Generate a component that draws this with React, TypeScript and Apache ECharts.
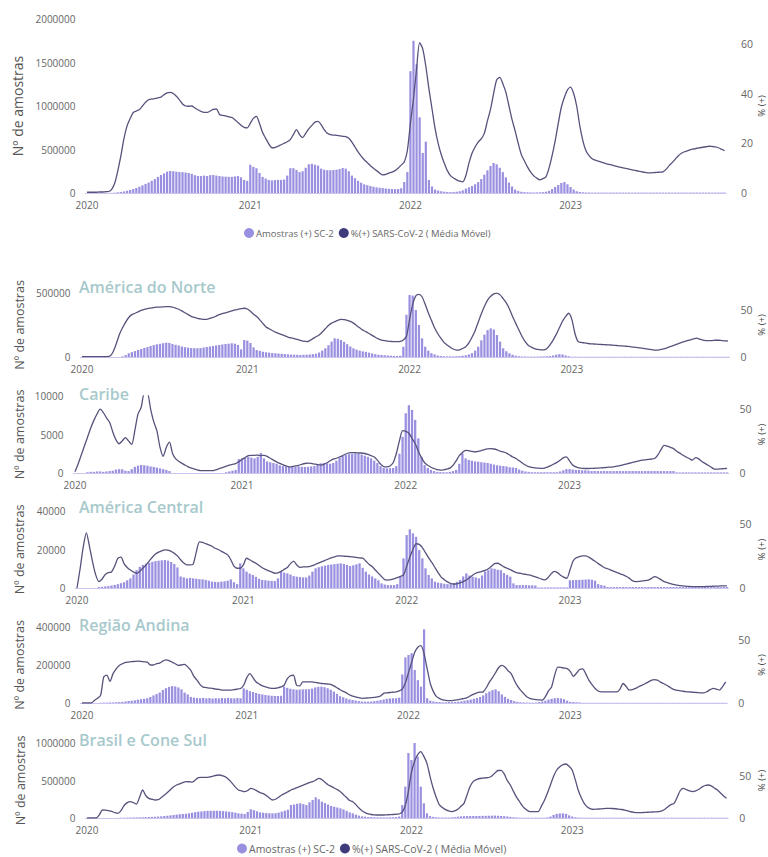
import { useEffect, useRef } from "react";
import * as echarts from "echarts";

// ---------- categories (ISO weeks) ----------
const years = [2020, 2021, 2022, 2023];
const weeksInYear = [53, 52, 52, 51];
const weeks: string[] = [];
years.forEach((y, k) => {
  for (let w = 1; w <= weeksInYear[k]; w++) weeks.push(`${y}-W${String(w).padStart(2, "0")}`);
});

const BAR_NAME = "Amostras (+) SC-2";
const LINE_NAME = "%(+) SARS-CoV-2 ( Média Móvel)";
const regionTitles = ["", "América do Norte", "Caribe", "América Central", "Região Andina", "Brasil e Cone Sul"];

const leftMax = [2000000, 500000, 10000, 40000, 400000, 1000000];
const leftInterval = [500000, 500000, 5000, 20000, 200000, 500000];
const rightMax = [70, 68, 60, 60, 60, 90];
const rightInterval = [20, 50, 50, 50, 50, 50];

// ---------- Total (Américas) ----------
const totalPct = [
  0.3,0.3,0.3,0.3,0.4,0.4,0.5,0.6,1.5,4,
  9,15,22,27,30,32.4,33,33.6,35,36.5,
  37.5,37.8,38,38.3,38.6,39.5,40.3,40.5,40,38.9,
  37.5,35.8,35,34.9,35,34.2,33.5,32.8,32.4,32.4,
  33,33.6,33.8,31.6,31.2,31,30.6,30.4,29.5,28.4,
  27.3,26.4,26.2,28,30,30.8,28,24.3,22,19.8,
  18.2,18.3,18.8,19.4,20,20.6,21.5,23.5,25.5,23.5,
  22.3,24,25.8,27.2,28.5,28.8,27.5,25.5,24,23.5,
  23.3,23.2,23,22.8,22.7,22,20.5,18.5,16.5,14.8,
  13.4,12.2,11,10,9,8,7.3,7.5,8,8.4,
  9,10,11.2,12.5,17,28,38,50,60.5,58,
  51,42,34,26,20,15.5,12,9,7,6,
  5.3,4.8,4.5,7,12,16,18.5,20.5,21.8,24,
  29,33.6,40,45.5,46.5,44,40.5,35,29.5,25,
  20,15.5,13,10.5,8.5,7,6,5.3,5.8,6.5,
  10,15,21,28,34.5,38.5,41.5,42.6,40,34.9,
  27,21,17,15,13.8,13.2,12.8,12.4,12,11.6,
  11.4,11,10.7,10.4,10.1,9.9,9.6,9.3,9.1,8.8,
  8.6,8.3,8.1,8.1,8.2,8.3,8.4,8.5,9.5,11,
  12.2,13.6,15,16,16.6,17,17.4,17.7,18,18.2,
  18.4,18.6,18.8,18.7,18.6,18.2,17.6,17,
];
const totalSamplesK = [
  0,0,0,0,0,0,0,1,2,4,
  8,12,18,25,35,45,58,72,88,105,
  120,140,160,185,207,225,245,253,250,245,
  241,240,235,230,220,205,195,195,200,195,
  205,207,200,195,190,188,186,186,190,195,
  180,150,140,325,300,285,230,185,165,150,
  145,148,150,150,155,200,285,285,265,240,
  250,290,330,335,325,315,280,268,262,262,
  264,268,275,287,280,250,200,170,140,118,
  100,90,80,72,65,60,57,52,48,46,
  45,46,55,126,240,1400,1750,1480,870,460,
  590,150,75,40,28,20,15,12,10,12,
  15,20,30,50,65,80,100,125,160,210,
  260,310,345,330,290,240,180,120,75,40,
  22,14,10,8,7,6,7,8,10,15,
  25,45,70,92,115,126,100,69,40,20,
  12,8,6,6,5,5,5,5,5,5,
  5,5,5,5,5,5,5,5,5,5,
  5,5,5,5,5,5,5,5,5,5,
  5,5,5,5,5,5,5,5,5,5,
  5,5,5,5,5,5,5,5,
];

// ---------- América do Norte ----------
const northPct = [
  0.5,0.5,0.5,0.5,0.5,0.5,0.5,0.5,0.5,1,
  5.6,14,24,31,37,42,45,46.5,48,49.5,
  50.5,51.5,52,52.5,53,53,53.3,53.5,53.5,53,
  52,50.7,49,47,45,43.2,42,41,40.5,40,
  40,41,42,43.5,45,46,47,48,49,50,
  50.7,51.3,51.8,51,48.5,45.5,43,39.5,35.5,32,
  30,28.2,26.5,25,23.8,22.5,21.2,20.3,19.6,18.6,
  17.7,16.8,16.3,17.5,19.5,21.5,23.4,26.5,30,33.5,
  36,37.5,39,40,39.7,39,37.8,36,33.5,31,
  28.5,27,25,23,21,19.3,18,17.3,16.8,16.5,
  16.3,16.3,16.5,18,22,40,56,65,66.5,64,
  56,47,39,31,25,20,15.5,12.8,10.5,8.5,
  7.4,7.6,9,11,15,21,28,37,46,54,
  60.5,64.5,67,67.8,66,62,57.5,51,43,36,
  29,22,16.5,12.5,10.5,9,8,7.5,7.5,9,
  13,18,24,31,38,43,46.5,40,25,16.3,
  15.5,15,14.5,14,13.8,13.6,13.4,13.2,13,12.8,
  12.6,12.3,12,11.8,11.5,11.2,10.8,10.4,10,9.6,
  9.1,8.6,8,7.6,7.4,7.6,8.3,9.2,10.4,11.6,
  12.8,14,15.3,16.3,17.3,18.3,19.2,20,19,18,
  17.5,17.3,17.5,17.8,17.8,17.5,17.2,17,
];
const northSamplesK = [
  0,0,0,0,0,0,0,0,0,0,
  0,0,0,5,15,29,38,46,55,63,
  71,78,86,93,99,103,108,112,110,102,
  95,90,82,77,73,70,69,68,70,74,
  78,82,86,90,94,98,102,104,107,104,
  94,60,133,128,110,75,55,48,41,37,
  34,31,29,27,25,23,21,19,18,17,
  16,17,18,20,22,25,35,50,68,92,
  120,146,142,133,118,100,82,68,58,50,
  44,40,34,28,22,18,16,14,12,10,
  9,8,10,80,330,484,480,367,250,146,
  80,50,30,20,12,8,6,5,5,5,
  6,7,10,14,20,30,50,80,130,175,
  210,224,215,172,120,68,45,29,18,10,
  6,4,4,3,3,3,3,4,5,6,
  8,12,18,22,20,12,6,2,2,2,
  2,2,2,2,2,2,2,2,2,2,
  2,2,2,2,2,2,2,2,2,2,
  2,2,2,2,2,2,2,2,2,2,
  2,2,2,2,2,2,2,2,2,2,
  2,2,2,2,2,2,2,2,
];

// ---------- Caribe ----------
const caribPct = [
  1,7,14,21,28,35,41,46,49.7,47,
  43,39.5,32,26,22.8,25,27.5,25,22.3,33,
  45.9,51,62,62,50,40,33,20,13,20,
  24,15,11,9,7.5,6,4.8,3.8,3,2.2,
  1.8,1.8,1.8,1.8,1.9,2.6,3.6,4.4,5.3,6.2,
  6.8,7.3,8.8,10.5,12,13.5,13.8,13.8,14,13.6,
  13.8,13,11.5,10,8.7,7.5,6.5,5.5,4.8,5,
  5.5,6,6.8,7.4,7.7,7.5,7,6.5,6.2,6.8,
  8,9.5,10.8,11.5,12.5,13.6,14.8,15.6,15.8,15.8,
  15.6,15.6,15.2,14.5,13.5,12.5,10,7,5,4.8,
  5.5,8,15,25,33,32.5,31,27,23,17,
  12,8,6,4.5,3.5,2.6,2.3,2.5,3,3.8,
  6,9.5,13.5,16,17.7,17.5,16.8,16.4,16.8,17.5,
  18.3,18.8,19,18.7,18,17,16.4,15.5,14,12.5,
  11.3,9.5,7.8,6.2,5,4.4,4,3.8,3.6,3.8,
  4.5,5.7,7,8.3,10,11.8,12.5,9.5,6.2,4.8,
  4,3.6,3.5,3.5,3.6,3.7,3.8,4,4.2,4.4,
  4.6,4.8,5.3,5.8,6.4,7,7.6,8.2,8.8,9.4,
  10,10.3,10.6,10.9,11.3,14,18,21.5,21,20,
  19,17,15.5,13.8,12.5,11.3,10,12,11,9,
  7.5,6,4.5,3,3,3.2,3.4,3.6,
];
const caribSamples = [
  0,0,0,0,100,150,150,200,200,150,
  200,250,300,450,500,480,300,250,500,800,
  950,1040,1000,950,850,800,700,600,500,400,
  250,0,0,0,0,0,0,0,0,0,
  0,0,0,0,0,0,0,0,100,200,
  300,400,1800,1900,2000,2100,2000,1900,2100,2600,
  1900,1500,1400,1300,1200,1000,900,850,820,800,
  820,850,800,780,800,850,900,1100,1260,1300,
  1250,1200,1300,1600,2000,2200,2350,2450,2500,2560,
  2500,2400,2250,2100,1900,1600,1300,900,650,600,
  620,650,900,2500,4700,7760,8800,8200,6900,4500,
  2100,1040,650,400,250,150,120,100,100,150,
  250,400,1200,2560,1900,1700,1600,1500,1470,1400,
  1350,1300,1200,1100,1000,950,900,850,750,700,
  650,450,300,200,150,100,100,100,100,100,
  100,100,100,100,200,350,500,500,450,400,
  400,350,350,300,250,250,250,250,250,250,
  250,250,250,250,250,250,250,250,250,250,
  250,250,250,250,250,250,250,250,250,250,
  250,80,80,80,80,80,80,80,80,80,
  80,80,80,80,80,80,80,80,
];

// ---------- América Central ----------
const centralPct = [
  0,15,32,43,32,20,10,5,7,10.5,
  12,12.5,17,23,24,19,16,14,12.5,11.5,
  13,15.5,18,21,24,26.5,28,29,29.7,29.5,
  28.5,27,25,22,19.5,18,18,18.5,28,36,
  35.5,34.5,33.6,32.5,31,30,28.5,27.3,25.8,22,
  17,15.4,15.4,18,23.2,22,20.5,19.3,17.5,15.8,
  14.5,13.5,12.5,11.5,11.8,13,14.5,16,19,21,
  18,16.1,16.4,16.5,16.7,17.4,18.5,19.5,20.5,21.5,
  22.5,23.5,24.3,25,25,24.8,24.6,24.5,24.2,23.8,
  23.4,23.2,21,18.5,16.7,14,11.5,9,6.5,6.2,
  6.5,7.2,8,9,10.2,17,24,30,34.5,34,
  31.5,27.5,23.5,20,16,12,8.5,6.5,4.8,3.5,
  3.1,3.3,4,5,6.2,8,10,11.5,12.3,13,
  13.8,15,17,19,19.3,18,16.5,15.4,14.3,13,
  12,11.5,11,10.6,10.2,9.5,8.7,7.8,7,6.3,
  8,11,13,12,10,8.5,7.6,14,21,23.5,
  24.5,25,25,24,22.5,20.8,19,17.4,15.8,15,
  14,13,12,11,10.2,9,7.5,5.5,5,5.2,
  5.5,5.8,6.2,7.5,8.8,8,6.5,5,4.2,3.5,
  2.8,2.2,1.8,1.6,1.4,1.2,1.1,1,1,1,
  1.1,1.2,1.3,1.4,1.5,1.6,1.6,1.6,
];
const centralSamplesK = [
  0,0,0,0,0,0,0,0.5,0.6,0.8,
  1,1.3,1.6,2,2.5,3,4,5,7,9.3,
  11,12,12.6,13.1,13.6,14,14.2,14.4,14.5,14.2,
  13.5,12.5,10.7,6,5.5,5,5.2,5,4.8,4.6,
  4.5,4.2,3.8,3.3,3.2,3.1,3.3,3.5,3.8,4.5,
  3,2,12.8,10.2,8.5,7.5,6.8,5.8,4.8,4.2,
  4,3.8,3.7,3.6,5,8.5,8,7.6,7,6.2,
  5.9,5.7,5.5,5.5,6.5,8.5,10.2,10.8,11.3,11.6,
  12,12.2,12.4,12.6,12.8,12.5,12,11.4,11.8,12.3,
  12.8,10.5,8.5,7,6,5,4,2.4,1.8,1.5,
  1.5,1.5,2,6,15.4,27.5,30.5,28.4,26.6,19.7,
  15.4,10.2,6.8,5,3.3,2.8,2.5,2.2,2,2,
  2.5,3.2,4.2,6,7.6,6.5,5.9,5.5,5,6.5,
  8.5,9.3,10.2,10,9.5,9.3,7.8,6.8,5.9,2.4,
  1.5,1.5,1.5,1.5,1.4,1.4,1.3,0.3,0.3,0.3,
  0.3,0.3,0.3,0.3,0.3,0.3,0.3,4,4.1,4.2,
  4.2,4.3,4.4,4.5,4.3,3.8,2,1.5,1.2,0.5,
  0.5,0.5,0.5,0.5,0.5,0.5,0.5,0.5,0.5,0.5,
  0.5,0.5,0.5,0.5,0.5,0.5,0.5,0.5,0.5,0.5,
  0.5,0.5,0.5,0.5,0.5,0.5,0.5,0.5,0.5,0.5,
  0.5,0.5,0.5,0.5,0.5,0.5,0.5,0.5,
];

// ---------- Região Andina ----------
const andeanPct = [
  0,0,0,0,2,3.7,6,20.5,22,17,
  23.2,27,29.7,31,32,32.3,32.6,32.8,33,32.8,
  32.5,32.3,30,30,31,31.5,33,34,33.5,32.3,
  31,29.7,30,30.5,28.5,25.8,21,18,14.5,12.5,
  12.2,11.8,11.5,11,10.7,10.2,10.2,10.2,10.2,10.5,
  11,11.5,14,20,23.2,20,16.6,15,13.5,12.7,
  12,11.6,11.5,12,12.7,14,19,21.5,21.9,14,
  13.5,16.6,16.6,16.6,16.6,16.2,15.8,15.4,15.2,15,
  14.8,13.5,12,10.5,9.2,8,6.5,5.5,4.8,4.2,
  3.7,3.8,4,4.2,4.4,4.8,5.5,7.6,8,8.3,
  8.5,8.8,9.5,11,16,24,32,40,44,45.3,
  38.8,27,15.4,9,5,3.5,2.5,2,1.8,1.9,
  2.2,2.6,3.2,3.6,4.5,5.8,7,8,8.5,8.8,
  12,16.5,20,24,28,29.7,28.5,25.5,23.2,18,
  13.5,10.2,7.5,5,3.7,3,2.6,2.4,2.3,5,
  9.5,12.7,22,28.4,28.2,27.6,27.1,25,21,23.5,
  26.5,27,23,18,14.5,11.5,9.5,8.8,8.8,8.8,
  8.8,8.8,8.8,11,15.4,13,10.2,10.5,11.5,12.8,
  14,15.2,16.5,17.8,18.5,18,16.5,15.4,14,12.5,
  11,10.2,9.8,9.4,9,8.8,8.6,8.4,8.2,8,
  8,9,10.5,11.5,11,10.2,13,16.6,
];
const andeanSamplesK = [
  0,0,0,0,0,0,1,2,2,3,
  3,4,5,6,8,10,12,14,17,20,
  22,25,32,40,47,55,68,78,85,89,
  87,82,72,55,45,32,28,26,25,27,
  24,26,23,25,24,26,25,27,25,24,
  26,25,77,70,62,58,52,48,45,42,
  40,38,37,37,38,86,80,75,72,70,
  71,72,72,73,76,82,85,86,83,78,
  70,60,48,36,30,24,19,16,13,10,
  8,7,7,8,10,12,15,18,22,24,
  25,25,28,150,240,253,262,174,120,86,
  388,25,12,8,6,5,4,4,5,5,
  6,7,9,12,15,18,22,26,32,40,
  51,60,68,72,62,45,32,22,16,10,
  6,4,3,2,2,2,3,5,8,12,
  18,22,25,26,24,20,12,6,5,4,
  3,1,1,1,1,1,1,1,1,1,
  1,1,1,1,1,1,1,1,1,1,
  1,1,1,1,1,1,1,1,1,1,
  1,1,1,1,1,1,1,1,1,1,
  1,1,1,1,1,1,1,1,
];

// ---------- Brasil e Cone Sul ----------
const southPct = [
  0,0,0,0,4,9.6,9.5,8.8,8,6.5,
  5.6,9,15,18.4,19.6,18.5,16.8,25,33.6,27,
  23.6,22.5,21.6,22,24.5,27.5,30.5,34,37.5,39.6,
  41,42.5,43.6,43.5,43,45.5,48.5,48.8,48.8,48.8,
  49.5,50.5,51.3,51.6,50.5,48.8,45.5,41.6,37,33.6,
  32.5,31.6,33,35.5,34.5,32.5,30.5,29.2,27,24,
  21.6,22.5,25,27.6,29.5,31.5,33.6,35,36.5,38,
  39.5,41,42.5,43.6,45.5,47.6,46,43,40,38,
  36,34,31.5,28,24.5,21,19.6,16,12,8.8,
  6.5,5,4.2,3.8,3.6,3.6,3.6,3.8,4,4.2,
  4.5,4.8,7,15,32,55,68,76,79.6,74,
  65.6,50,36,25,16,12.5,10,8.5,7.6,8.5,
  10.5,14,17.6,28,38,44,46,47.4,47.8,48.2,
  48.6,50.5,54,57,57.2,53,45,39.6,32,25,
  19.5,14,10.5,8,7.6,7.6,7.6,14,21,30,
  40,50,57.6,61.5,64,64.8,62,57.6,46,33,
  24,17,13,11,10.4,10.6,10.9,11.2,11.5,11.6,
  11.4,11.1,10.7,10.2,9.5,8.5,7.5,6.8,6.4,6.4,
  6.6,6.8,7,7.2,7.4,7.6,8.5,10.5,13.5,16,
  17.6,25,33,35.6,34,32.5,31.6,32.5,34.5,37,
  39,39.6,38.5,36,33.6,30,26.5,23.6,
];
const southSamplesK = [
  0,0,0,0,0,0,0,0,0,0,
  2,3,4,5,6,7,8,9,10,11,
  13,15,17,19,22,26,30,35,40,45,
  50,53,56,62,70,78,84,88,92,95,
  97,96,97,95,92,88,84,78,70,62,
  58,53,80,116,105,90,75,70,66,63,
  62,64,72,85,97,110,173,180,190,196,
  185,173,210,240,276,250,218,200,180,160,
  150,140,129,115,95,75,62,45,32,22,
  18,14,12,10,9,8,8,8,9,10,
  12,20,173,418,867,773,1000,817,418,196,
  62,25,15,10,8,7,6,6,8,12,
  18,22,24,25,26,27,27,28,28,29,
  30,31,32,30,27,24,20,15,10,7,
  5,4,4,4,4,4,4,4,4,8,
  20,40,55,60,62,55,35,20,10,6,
  4,4,4,4,4,4,4,4,4,4,
  4,4,4,4,4,4,4,4,4,4,
  4,4,4,4,4,4,4,4,4,4,
  4,4,4,4,4,4,4,4,4,4,
  4,4,4,4,4,4,4,4,
];

const pctSeries = [totalPct, northPct, caribPct, centralPct, andeanPct, southPct];
const sampleSeries = [
  totalSamplesK.map((v) => v * 1000),
  northSamplesK.map((v) => v * 1000),
  caribSamples,
  centralSamplesK.map((v) => v * 1000),
  andeanSamplesK.map((v) => v * 1000),
  southSamplesK.map((v) => v * 1000),
];

// ---------- layout (pixels) ----------
const panels = [
  { left: 85.5, width: 640.6, top: 19, height: 174, nameGap: 61, nameSize: 14, titleTop: 0, rMargin: 15 },
  { left: 80.4, width: 649, top: 293, height: 64, nameGap: 54, nameSize: 12.5, titleTop: 279, rMargin: 11 },
  { left: 73.4, width: 655.2, top: 396, height: 77, nameGap: 47, nameSize: 12.5, titleTop: 386, rMargin: 11 },
  { left: 75.4, width: 653.1, top: 511, height: 77, nameGap: 49, nameSize: 12.5, titleTop: 499, rMargin: 11 },
  { left: 80.4, width: 646.9, top: 627, height: 76, nameGap: 54, nameSize: 12.5, titleTop: 617, rMargin: 11 },
  { left: 85.5, width: 642.7, top: 743, height: 75, nameGap: 59, nameSize: 12.5, titleTop: 732, rMargin: 11 },
];

const BAR_COLOR = "#9990e0";
const LINE_COLOR = "#55537c";
const LINE_ICON = "#3e3a7c";
const FONT = "'Segoe UI', 'Open Sans', sans-serif";

export default function App() {
  const ref = useRef<HTMLDivElement>(null);
  useEffect(() => {
    if (!ref.current) return;
    const chart = echarts.init(ref.current, undefined, { renderer: "svg" });
    const grid: any[] = [];
    const xAxis: any[] = [];
    const yAxis: any[] = [];
    const series: any[] = [];
    const title: any[] = [];
    panels.forEach((p, k) => {
      const rightEdge = p.left + p.width;
      grid.push({ left: p.left, top: p.top, width: p.width, height: p.height, containLabel: false, outerBoundsMode: "none" });
      xAxis.push({
        type: "category",
        gridIndex: k,
        data: weeks,
        boundaryGap: true,
        axisLine: { show: true, lineStyle: { color: "#cbc6f0", width: 1 } },
        axisTick: { show: false },
        axisLabel: {
          interval: (_i: number, v: string) => v.endsWith("-W01"),
          formatter: (v: string) => v.slice(0, 4),
          color: "#666",
          fontSize: 10,
          margin: 7,
          fontFamily: FONT,
        },
        splitLine: { show: false },
      });
      yAxis.push({
        type: "value",
        gridIndex: k,
        min: 0,
        max: leftMax[k],
        interval: leftInterval[k],
        name: "Nº de amostras",
        nameLocation: "middle",
        nameRotate: 90,
        nameGap: p.nameGap,
        nameMoveOverlap: false,
        nameTextStyle: { color: "#555", fontSize: p.nameSize, fontFamily: FONT },
        axisLine: { show: false },
        axisTick: { show: false },
        splitLine: { show: false },
        axisLabel: { color: "#666", fontSize: 10, margin: 10, fontFamily: FONT, formatter: (v: number) => String(v) },
      });
      yAxis.push({
        type: "value",
        gridIndex: k,
        position: "right",
        min: 0,
        max: rightMax[k],
        interval: rightInterval[k],
        name: "% (+)",
        nameLocation: "middle",
        nameRotate: 90,
        nameGap: 756 - rightEdge,
        nameMoveOverlap: false,
        nameTextStyle: { color: "#444", fontSize: 9.5, fontFamily: FONT },
        axisLine: { show: false },
        axisTick: { show: false },
        splitLine: { show: false },
        axisLabel: { color: "#666", fontSize: 10.5, margin: p.rMargin, showMaxLabel: false, fontFamily: FONT },
      });
      series.push({
        type: "bar",
        name: BAR_NAME,
        xAxisIndex: k,
        yAxisIndex: 2 * k,
        data: sampleSeries[k],
        barCategoryGap: "28%",
        itemStyle: { color: BAR_COLOR },
        emphasis: { disabled: true },
      });
      series.push({
        type: "line",
        name: LINE_NAME,
        xAxisIndex: k,
        yAxisIndex: 2 * k + 1,
        data: pctSeries[k],
        showSymbol: false,
        symbol: "none",
        smooth: 0.25,
        clip: true,
        itemStyle: { color: LINE_ICON },
        lineStyle: { color: LINE_COLOR, width: 1.3 },
        emphasis: { disabled: true },
        z: 3,
      });
      if (regionTitles[k]) {
        title.push({
          text: regionTitles[k],
          left: 79,
          top: p.titleTop,
          padding: 0,
          textStyle: { color: "#a7c9cc", fontSize: 16, fontWeight: 600, fontFamily: "'Open Sans', sans-serif" },
        });
      }
    });
    const legendBase = {
      orient: "horizontal",
      icon: "circle",
      itemWidth: 10,
      itemHeight: 10,
      itemGap: 5,
      selectedMode: false,
      padding: 0,
      data: [BAR_NAME, LINE_NAME],
    };
    chart.setOption({
      animation: false,
      textStyle: { fontFamily: FONT },
      title,
      grid,
      xAxis,
      yAxis,
      series,
      legend: [
        { ...legendBase, left: 244, top: 228, textStyle: { color: "#666", fontSize: 9.5, fontFamily: FONT, padding: [0, 0, 0, -3] } },
        { ...legendBase, left: 237, top: 843, textStyle: { color: "#666", fontSize: 10.5, fontFamily: FONT, padding: [0, 0, 0, -3] } },
      ],
    });
    return () => chart.dispose();
  }, []);
  return <div ref={ref} style={{ position: "fixed", left: 0, top: 0, width: 768, height: 857, background: "#fff" }} />;
}
